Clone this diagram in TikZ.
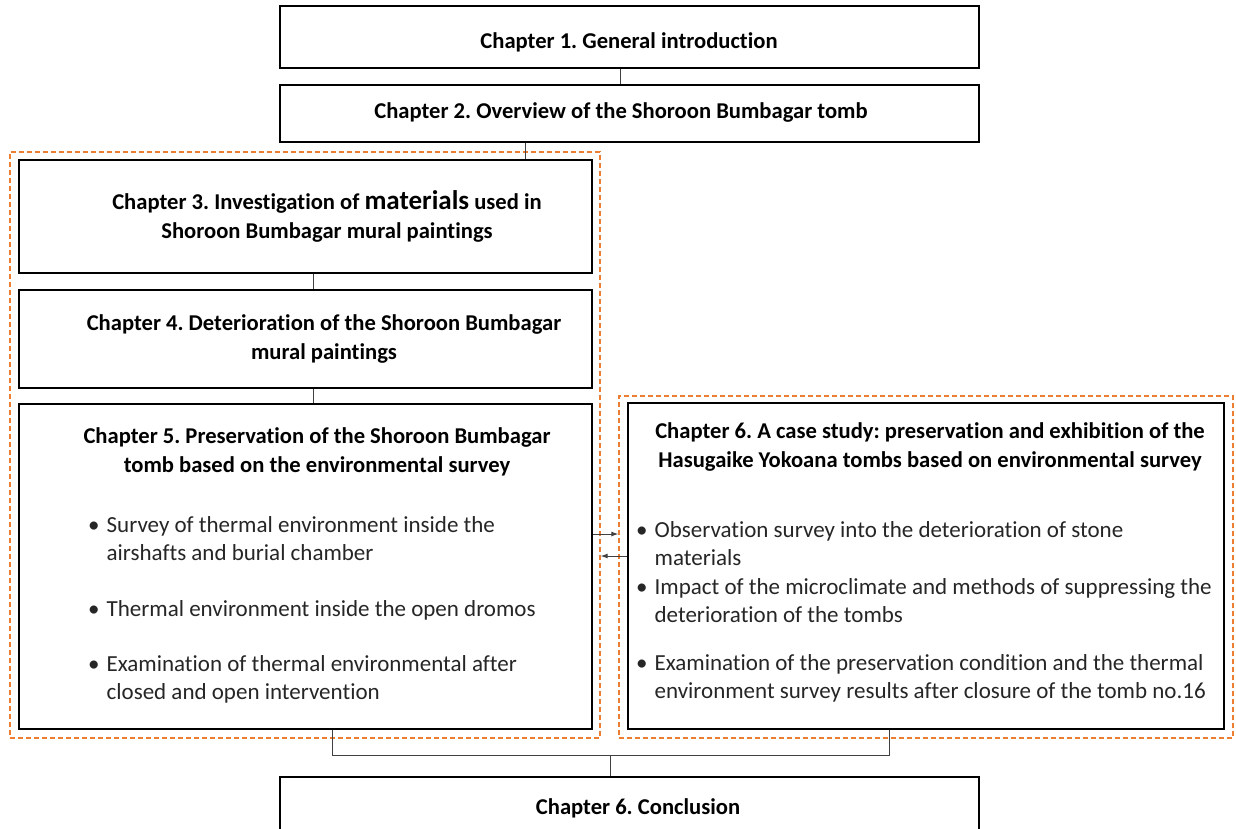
\documentclass[tikz,border=0pt]{standalone}
\usepackage{fontspec}
\setmainfont{Carlito}[Ligatures={NoCommon}]
\frenchspacing
\usetikzlibrary{arrows.meta}
\definecolor{frameorange}{RGB}{237,125,49}
\tikzset{
  chapter/.style={draw=black, line width=1.2pt, fill=white, inner sep=0pt},
  grouping/.style={draw=frameorange, dash pattern=on 5pt off 3pt, line width=1.3pt, inner sep=0pt},
  heading/.style={font=\fontsize{22.6}{29}\selectfont\bfseries, align=center},
  item/.style={font=\fontsize{23}{28}\selectfont, text=black!85, anchor=west, inner sep=0pt},
  link/.style={draw=black!75, line width=1pt},
}
\newcommand{\itembox}[1]{\begin{tabular}{@{}l@{\hspace{7pt}}l@{}}#1\end{tabular}}
\begin{document}
\begin{tikzpicture}[x=1pt,y=-1pt]
        \clip (0,0) rectangle (1236,828);
        \fill[white] (0,0) rectangle (1236,828);

        \node[grouping, minimum width=590pt, minimum height=586pt] (grp5) at (305,445) {};
        \node[grouping, minimum width=614pt, minimum height=342pt] (grp6) at (926,567) {};

        \node[chapter, minimum width=699pt, minimum height=62pt] (ch1) at (629.5,37) {};
        \node[chapter, minimum width=699pt, minimum height=57pt] (ch2) at (629.5,113.5) {};
        \node[chapter, minimum width=573pt, minimum height=113pt] (ch3) at (305.5,216.5) {};
        \node[chapter, minimum width=573pt, minimum height=98pt] (ch4) at (305.5,339) {};
        \node[chapter, minimum width=573pt, minimum height=325pt] (ch5) at (305.5,566.5) {};
        \node[chapter, minimum width=596pt, minimum height=326pt] (ch6) at (926,566) {};
        \node[chapter, minimum width=699pt, minimum height=80pt] (concl) at (629.5,817) {};

        \node[heading] (ch1 title) at (629,42) {Chapter 1. General introduction};
        \node[heading] (ch2 title) at (621,112) {Chapter 2. Overview of the Shoroon Bumbagar tomb};
        \node[heading] (ch3 title) at (327,216) {Chapter 3. Investigation of {\fontsize{27}{29}\selectfont materials} used in\\Shoroon Bumbagar mural paintings};
        \node[heading] (ch4 title) at (324,339) {Chapter 4. Deterioration of the Shoroon Bumbagar\\mural paintings};
        \node[heading] (ch5 title) at (317,452) {Chapter 5. Preservation of the Shoroon Bumbagar\\tomb based on the environmental survey};
        \node[heading] (ch6 title) at (930,447) {Chapter 6. A case study: preservation and exhibition of the\\Hasugaike Yokoana tombs based on environmental survey};
        \node[heading] (concl title) at (638,808) {Chapter 6. Conclusion};

        \node[item] (ch5 item1) at (88,541) {\itembox{\textbullet & Survey of thermal environment inside the\\ & airshafts and burial chamber}};
        \node[item] (ch5 item2) at (88,611) {\itembox{\textbullet & Thermal environment inside the open dromos}};
        \node[item] (ch5 item3) at (88,680) {\itembox{\textbullet & Examination of thermal environmental after\\ & closed and open intervention}};

        \node[item] (ch6 item1) at (636,546) {\itembox{\textbullet & Observation survey into the deterioration of stone\\ & materials}};
        \node[item] (ch6 item2) at (636,603) {\itembox{\textbullet & Impact of the microclimate and methods of suppressing the\\ & deterioration of the tombs}};
        \node[item] (ch6 item3) at (636,679) {\itembox{\textbullet & Examination of the preservation condition and the thermal\\ & environment survey results after closure of the tomb no.16}};

        \draw[link] (ch1.south -| 620,0) -- (ch2.north -| 620,0);
        \draw[link] (ch2.south -| 525,0) -- (ch3.north -| 525,0);
        \draw[link] (ch3.south -| 313,0) -- (ch4.north -| 313,0);
        \draw[link] (ch4.south -| 313,0) -- (ch5.north -| 313,0);

        \draw[link, -{Latex[length=7pt,width=5pt]}] (ch5.east |- 0,534) -- (grp6.west |- 0,534);
        \draw[link, -{Latex[length=7pt,width=5pt]}] (ch6.west |- 0,556) -- (grp5.east |- 0,556);

        \coordinate (join) at (610,755);
        \draw[link] (ch5.south -| 332,0) |- (join) -| (ch6.south -| 889,0);
        \draw[link] (join) -- (concl.north -| join);

\end{tikzpicture}
\end{document}
